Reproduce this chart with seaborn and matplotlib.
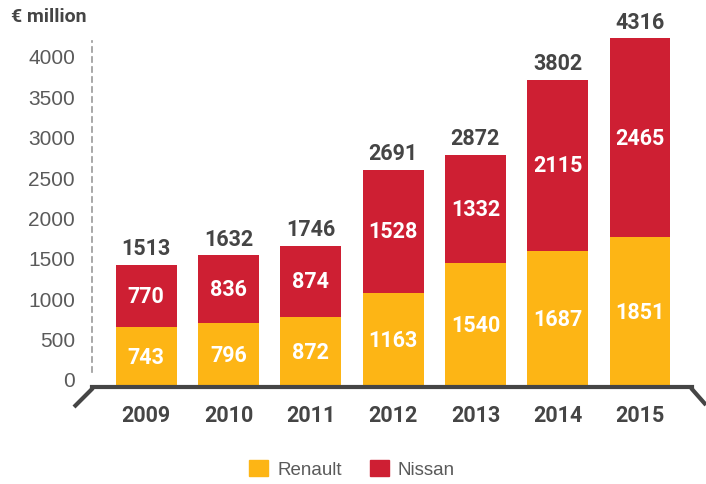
import numpy as np
import pandas as pd
import matplotlib
matplotlib.use('Agg')
import matplotlib.pyplot as plt
import matplotlib.transforms as mtransforms
from matplotlib.lines import Line2D
from matplotlib.patches import Patch
import seaborn as sns

years = ['2009', '2010', '2011', '2012', '2013', '2014', '2015']
renault = [743, 796, 872, 1163, 1540, 1687, 1851]
nissan = [770, 836, 874, 1528, 1332, 2115, 2465]
totals = [1513, 1632, 1746, 2691, 2872, 3802, 4316]
yticks = [0, 500, 1000, 1500, 2000, 2500, 3000, 3500, 4000]

orange = '#FDB515'
red = '#CE1F33'
dark = '#454545'
grey = '#5a5a5a'

df = pd.DataFrame({'year': years, 'Renault': renault, 'Nissan': nissan, 'total': totals})

sns.set_style('white')
plt.rcParams['font.family'] = ['Roboto', 'DejaVu Sans']

fig = plt.figure(figsize=(7.06, 4.85), dpi=100)
ax = fig.add_axes([0.130, 0.2, 0.850, 0.733])

# red = total height, orange drawn over the bottom part
sns.barplot(data=df, x='year', y='total', color=red, saturation=1, width=0.74,
            linewidth=0, ax=ax)
sns.barplot(data=df, x='year', y='Renault', color=orange, saturation=1, width=0.74,
            linewidth=0, ax=ax)

ax.set_xlim(-0.66, 6.63)
ax.set_ylim(0, 4400)
ax.set_xlabel('')
ax.set_ylabel('')

for i in range(len(years)):
    ax.text(i, renault[i] / 2, str(renault[i]), ha='center', va='center',
            color='white', fontsize=15.5, fontweight='bold')
    ax.text(i, renault[i] + nissan[i] / 2, str(nissan[i]), ha='center', va='center',
            color='white', fontsize=15.5, fontweight='bold')
    ax.annotate(str(totals[i]), (i, totals[i]), xytext=(0, 4), textcoords='offset points',
                ha='center', va='bottom', color=dark, fontsize=15.5, fontweight='bold')

# y axis
ax.set_yticks(yticks)
ax.set_yticklabels([str(v) for v in yticks], fontsize=15, color=grey,
                   family=['Liberation Sans', 'DejaVu Sans'])
ax.tick_params(axis='y', length=0, pad=12)
off = mtransforms.ScaledTranslation(0, 8 / 100, fig.dpi_scale_trans)
for lab in ax.get_yticklabels():
    lab.set_transform(lab.get_transform() + off)

ax.tick_params(axis='x', length=0, pad=12)
for lab in ax.get_xticklabels():
    lab.set_fontsize(15.5)
    lab.set_fontweight('bold')
    lab.set_color(dark)

for s in ['top', 'right']:
    ax.spines[s].set_visible(False)
ax.spines['left'].set_linestyle((0, (3, 3)))
ax.spines['left'].set_color('#999999')
ax.spines['left'].set_linewidth(1.2)
ax.spines['left'].set_bounds(190, 4280)
ax.spines['bottom'].set_color(dark)
ax.spines['bottom'].set_linewidth(3)

# slanted ends of the base line
W, H = 706, 485
def fpt(x, y):
    return x / W, 1 - y / H
for (x0, y0), (x1, y1) in [((93, 389), (74, 408)), ((691, 389), (706, 406))]:
    a, b = fpt(x0, y0)
    c, d = fpt(x1, y1)
    fig.add_artist(Line2D([a, c], [b, d], color=dark, linewidth=3,
                          transform=fig.transFigure, solid_capstyle='butt'))

fig.text(11 / W, 1 - 17 / H, '€ million', ha='left', va='center', color=dark,
         fontsize=14, fontweight='bold')

handles = [Patch(color=orange, label='Renault'), Patch(color=red, label='Nissan')]
fig.legend(handles=handles, loc='center', bbox_to_anchor=(352 / W, 1 - 470 / H), ncol=2,
           frameon=False, handlelength=1.0, handleheight=1.0,
           handletextpad=0.5, columnspacing=1.5, labelcolor=grey,
           prop={'family': ['Liberation Sans', 'DejaVu Sans'], 'size': 13.5})

fig.savefig('out.png', dpi=100)
